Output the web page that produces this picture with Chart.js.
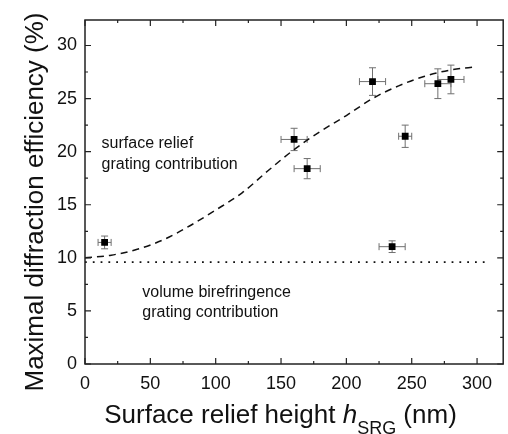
<!DOCTYPE html>
<html>
<head>
<meta charset="utf-8">
<script src="https://cdn.jsdelivr.net/npm/chart.js@4.4.1/dist/chart.umd.min.js"></script>
<style>
html, body { margin: 0; padding: 0; background: #fff; }
#wrap { width: 508px; height: 434px; }
</style>
</head>
<body>
<div id="wrap"><canvas id="ourChart"></canvas></div>
<script>
// measured points
let heights = [15, 160, 170, 220, 235, 245, 270, 280]
let efficiency = [11.45, 21.15, 18.4, 26.6, 11.05, 21.45, 26.4, 26.8]
let heightErr = [5, 10, 10, 10, 10, 5, 10, 10]
let efficiencyErr = [0.6, 1.05, 0.95, 1.3, 0.55, 1.05, 1.4, 1.35]

// dashed curve (surface relief contribution)
let curveX = [0, 20, 40, 60, 80, 100, 120, 140, 160, 180, 200, 220, 240, 260, 280, 300]
let curveY = [10.0, 10.25, 10.8, 11.7, 13.0, 14.5, 16.1, 18.2, 20.2, 21.9, 23.4, 25.0, 26.2, 27.1, 27.7, 28.0]

// dotted line (volume birefringence level)
let baseX = [0, 310]
let baseY = [9.6, 9.6]

let xTickValues = [0, 50, 100, 150, 200, 250, 300]
let yTickValues = [0, 5, 10, 15, 20, 25, 30]
let xMinorTicks = [25, 75, 125, 175, 225, 275]
let yMinorTicks = [2.5, 7.5, 12.5, 17.5, 22.5, 27.5, 32.5]

let notes = [
    { text: 'surface relief', x: 12.7, y: 20.3 },
    { text: 'grating contribution', x: 12.7, y: 18.4 },
    { text: 'volume birefringence', x: 43.9, y: 6.27 },
    { text: 'grating contribution', x: 43.9, y: 4.39 }
]

const FONT = "'Liberation Sans', Arial, Helvetica, sans-serif";

function toPoints(xs, ys) {
    return xs.map((x, i) => ({ x: x, y: ys[i] }));
}

// error bars behind the markers
const errorBars = {
    id: 'errorBars',
    beforeDatasetsDraw(chart) {
        const ctx = chart.ctx, xs = chart.scales.x, ys = chart.scales.y;
        ctx.save();
        ctx.strokeStyle = '#707070';
        ctx.lineWidth = 1;
        const cap = 3.5;
        heights.forEach((h, i) => {
            const px = xs.getPixelForValue(h), py = ys.getPixelForValue(efficiency[i]);
            const x1 = xs.getPixelForValue(h - heightErr[i]), x2 = xs.getPixelForValue(h + heightErr[i]);
            const y1 = ys.getPixelForValue(efficiency[i] - efficiencyErr[i]), y2 = ys.getPixelForValue(efficiency[i] + efficiencyErr[i]);
            ctx.beginPath();
            ctx.moveTo(x1, py); ctx.lineTo(x2, py);
            ctx.moveTo(x1, py - cap); ctx.lineTo(x1, py + cap);
            ctx.moveTo(x2, py - cap); ctx.lineTo(x2, py + cap);
            ctx.moveTo(px, y1); ctx.lineTo(px, y2);
            ctx.moveTo(px - cap, y1); ctx.lineTo(px + cap, y1);
            ctx.moveTo(px - cap, y2); ctx.lineTo(px + cap, y2);
            ctx.stroke();
        });
        ctx.restore();
    }
};

// frame, inward ticks, notes and axis titles
const frame = {
    id: 'frame',
    afterDraw(chart) {
        const ctx = chart.ctx, a = chart.chartArea, xs = chart.scales.x, ys = chart.scales.y;
        ctx.save();
        ctx.strokeStyle = '#222';
        ctx.lineWidth = 1.5;
        ctx.strokeRect(a.left, a.top, a.right - a.left, a.bottom - a.top);
        ctx.lineWidth = 1.2;
        ctx.beginPath();
        const tickX = (v, len) => {
            const p = xs.getPixelForValue(v);
            ctx.moveTo(p, a.bottom); ctx.lineTo(p, a.bottom - len);
            ctx.moveTo(p, a.top); ctx.lineTo(p, a.top + len);
        };
        const tickY = (v, len) => {
            const p = ys.getPixelForValue(v);
            if (p < a.top) return;
            ctx.moveTo(a.left, p); ctx.lineTo(a.left + len, p);
            ctx.moveTo(a.right, p); ctx.lineTo(a.right - len, p);
        };
        xTickValues.forEach(v => tickX(v, 6));
        xMinorTicks.forEach(v => tickX(v, 3));
        yTickValues.forEach(v => tickY(v, 6));
        yMinorTicks.forEach(v => tickY(v, 3));
        ctx.stroke();

        ctx.fillStyle = '#111';
        ctx.font = '16px ' + FONT;
        ctx.textAlign = 'left';
        ctx.textBaseline = 'alphabetic';
        notes.forEach(n => ctx.fillText(n.text, xs.getPixelForValue(n.x), ys.getPixelForValue(n.y)));

        // x title with italic h and subscript SRG
        const parts = [
            { t: 'Surface relief height ', f: '26px ' + FONT, dy: 0 },
            { t: 'h', f: 'italic 26px ' + FONT, dy: 0 },
            { t: 'SRG', f: '18px ' + FONT, dy: 11 },
            { t: ' (nm)', f: '26px ' + FONT, dy: 0 }
        ];
        let total = 0;
        parts.forEach(p => { ctx.font = p.f; p.w = ctx.measureText(p.t).width; total += p.w; });
        let cx = 280.5 - total / 2;
        parts.forEach(p => { ctx.font = p.f; ctx.fillText(p.t, cx, 422.5 + p.dy); cx += p.w; });

        // y title
        ctx.translate(43, 202);
        ctx.rotate(-Math.PI / 2);
        ctx.font = '26px ' + FONT;
        ctx.textAlign = 'center';
        ctx.fillText('Maximal diffraction efficiency (%)', 0, 0);
        ctx.restore();
    }
};

const chartElement = new Chart(document.getElementById('ourChart'), {
    type: 'scatter',
    data: {
        datasets: [
            {
                label: 'surface relief grating',
                data: toPoints(curveX, curveY),
                showLine: true,
                borderColor: '#111',
                borderWidth: 1.5,
                borderDash: [7, 5],
                pointRadius: 0,
                cubicInterpolationMode: 'monotone',
                order: 3
            },
            {
                label: 'volume birefringence',
                data: toPoints(baseX, baseY),
                showLine: true,
                borderColor: '#111',
                borderWidth: 1.8,
                borderDash: [1.8, 6],
                pointRadius: 0,
                order: 2
            },
            {
                label: 'measured',
                data: toPoints(heights, efficiency),
                pointStyle: 'rect',
                pointRadius: 4.8,
                backgroundColor: '#000',
                borderWidth: 0,
                order: 1
            }
        ]
    },
    options: {
        responsive: true,
        maintainAspectRatio: false,
        animation: false,
        layout: { padding: { top: 20, right: 2, left: 0, bottom: 0 } },
        plugins: { legend: { display: false }, tooltip: { enabled: false } },
        scales: {
            x: {
                type: 'linear',
                min: 0,
                max: 320,
                grid: { display: false, drawTicks: false },
                border: { display: false },
                afterBuildTicks: s => { s.ticks = xTickValues.map(v => ({ value: v })); },
                afterFit: s => { s.height = 70; },
                ticks: { padding: 9, maxRotation: 0, color: '#111', font: { family: FONT, size: 18 } }
            },
            y: {
                type: 'linear',
                min: 0,
                max: 32.4,
                grid: { display: false, drawTicks: false },
                border: { display: false },
                afterBuildTicks: s => { s.ticks = yTickValues.map(v => ({ value: v })); },
                afterFit: s => { s.width = 85; },
                ticks: { padding: 8, color: '#111', font: { family: FONT, size: 18 } }
            }
        }
    },
    plugins: [errorBars, frame]
});
</script>
</body>
</html>
